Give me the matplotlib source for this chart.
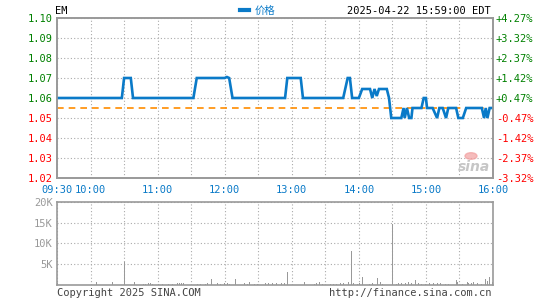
import matplotlib
matplotlib.use("Agg")
import matplotlib.pyplot as plt
import matplotlib.ticker as mticker

W, H = 545, 300

# price path: minutes after 09:30, price
price_min = [0, 58, 60, 66, 68, 122, 125, 150, 152, 154, 157, 204, 206, 218, 220,
             256, 258, 260, 262, 264, 270, 273, 280, 282, 284, 286, 288, 295, 297, 299,
             308, 310, 311, 313, 315, 317, 318, 326, 328, 330, 331, 336, 340, 342, 345,
             348, 350, 357, 359, 363, 366, 380, 382, 383.5, 385, 387, 390]
price_val = [1.06, 1.06, 1.07, 1.07, 1.06, 1.06, 1.07, 1.07, 1.0705, 1.07, 1.06, 1.06, 1.07, 1.07, 1.06,
             1.06, 1.065, 1.07, 1.07, 1.06, 1.06, 1.0645, 1.0645, 1.06, 1.0645, 1.061, 1.0645, 1.0645, 1.06, 1.05,
             1.05, 1.055, 1.05, 1.055, 1.05, 1.05, 1.055, 1.055, 1.06, 1.06, 1.055, 1.055, 1.05, 1.055, 1.055,
             1.05, 1.055, 1.055, 1.05, 1.05, 1.055, 1.055, 1.05, 1.055, 1.05, 1.055, 1.055]
prev_close = 1.055

vol_min = [0, 35, 49, 60, 69, 77, 79, 81, 83, 85, 90, 94, 99, 103, 107, 109, 111, 113,
           125, 128, 132, 134, 138, 143, 146, 149, 152, 154, 159, 167, 170, 172, 176, 179,
           186, 189, 192, 196, 200, 203, 206, 221, 230, 232, 234, 237, 244, 247, 250, 253,
           256, 260, 263, 265, 268, 270, 273, 279, 282, 286, 289, 291, 300, 303, 305, 308,
           311, 314, 317, 320, 323, 326, 329, 333, 336, 340, 343, 347, 350, 357, 358, 362,
           367, 368, 370, 372, 376, 379, 383, 385, 386, 389]
vol_val = [450, 700, 700, 5600, 700, 350, 350, 400, 550, 350, 350, 350, 350, 350, 500, 400, 400, 400,
           350, 350, 350, 400, 1400, 400, 350, 450, 400, 350, 1400, 450, 350, 700, 350, 350,
           450, 400, 400, 500, 550, 400, 3100, 700, 350, 450, 700, 350, 350, 350, 350, 400,
           400, 700, 8200, 450, 350, 400, 1900, 350, 400, 1700, 700, 350, 14700, 350, 500, 450,
           500, 700, 400, 1200, 400, 350, 350, 500, 400, 450, 500, 350, 350, 1200, 700, 350,
           700, 400, 500, 700, 450, 350, 1400, 1000, 1900, 700]

time_pos = [0, 30, 90, 150, 210, 270, 330, 390]
time_labels = ["09:30", "10:00", "11:00", "12:00", "13:00", "14:00", "15:00", "16:00"]
price_ticks = [1.02, 1.03, 1.04, 1.05, 1.06, 1.07, 1.08, 1.09, 1.10]
vol_ticks = [5000, 10000, 15000, 20000]
vol_labels = ["5K", "10K", "15K", "20K"]

BLUE = "#0a7ac8"
GREEN = "#008000"
RED = "#ff0000"
FRAME = "#999999"
GRID = "#aaaaaa"
MONO = "DejaVu Sans Mono"
FS = 7.5

fig = plt.figure(figsize=(W / 100, H / 100), dpi=100)


def box(l, t, r, b):
    return [l / W, 1 - b / H, (r - l) / W, (b - t) / H]


ax = fig.add_axes(box(57, 18, 493, 178))
ax.plot(price_min, price_val, color=BLUE, lw=1.9, solid_joinstyle="miter", zorder=3)
ax.axhline(prev_close, color="#ff8c00", lw=1.2, dashes=(4, 3), zorder=2)
ax.set_xlim(0, 390)
ax.set_ylim(1.02, 1.10)
ax.set_yticks(price_ticks)
ax.set_yticklabels([f"{p:.2f}" for p in price_ticks])
for lbl, p in zip(ax.get_yticklabels(), price_ticks):
    lbl.set_color(GREEN if p > prev_close else RED)
ax.xaxis.set_major_locator(mticker.FixedLocator(time_pos))
ax.set_xticklabels(time_labels)
ax.xaxis.set_minor_locator(mticker.MultipleLocator(30))
ax.grid(True, which="both", axis="x", color=GRID, ls=(0, (1, 2)), lw=0.8)
ax.grid(True, axis="y", color=GRID, ls=(0, (1, 2)), lw=0.8)
ax.tick_params(length=0, which="both", labelsize=FS, pad=3)
ax.tick_params(axis="x", colors=BLUE, pad=5)
for t in ax.get_xticklabels() + ax.get_yticklabels():
    t.set_family(MONO)

ax2 = ax.twinx()
ax2.set_ylim(1.02, 1.10)
ax2.set_yticks(price_ticks)
pct = [(p / prev_close - 1) * 100 for p in price_ticks]
ax2.set_yticklabels([f"{v:+.2f}%" for v in pct])
for lbl, v in zip(ax2.get_yticklabels(), pct):
    lbl.set_color(GREEN if v > 0 else RED)
    lbl.set_family(MONO)
ax2.tick_params(length=0, labelsize=FS, pad=2)

for a in (ax, ax2):
    for s in a.spines.values():
        s.set_color(FRAME)
        s.set_linewidth(1.2)

axv = fig.add_axes(box(57, 201.7, 493, 285))
axv.vlines(vol_min, 0, vol_val, color="#999999", lw=0.72, antialiased=False)
axv.set_xlim(0, 390)
axv.set_ylim(0, 20000)
axv.set_yticks(vol_ticks)
axv.set_yticklabels(vol_labels)
axv.xaxis.set_major_locator(mticker.MultipleLocator(30))
axv.set_xticklabels([])
axv.grid(True, color=GRID, ls=(0, (1, 2)), lw=0.8)
axv.tick_params(length=0, labelsize=FS, colors="#999999", pad=3)
for t in axv.get_yticklabels():
    t.set_family(MONO)
for s in axv.spines.values():
    s.set_color(FRAME)
    s.set_linewidth(1.2)

# header and footer texts
fig.text(55 / W, 1 - 11 / H, "EM", fontsize=FS, family=MONO, va="center", ha="left", color="black")
fig.text(491 / W, 1 - 11 / H, "2025-04-22 15:59:00 EDT", fontsize=FS, family=MONO,
         va="center", ha="right", color="black")
fig.add_artist(plt.Line2D([240 / W, 249 / W], [1 - 10 / H, 1 - 10 / H], color=BLUE, lw=3))
fig.text(255 / W, 1 - 11 / H, "价格", fontsize=FS, family=["Noto Sans CJK SC", "DejaVu Sans"],
         va="center", ha="left", color=BLUE)
fig.text(57 / W, 1 - 293 / H, "Copyright 2025 SINA.COM", fontsize=FS, family=MONO,
         va="center", ha="left", color="#444444")
fig.text(491 / W, 1 - 293 / H, "http://finance.sina.com.cn", fontsize=FS, family=MONO,
         va="center", ha="right", color="#444444")

# sina watermark
fig.text(474 / W, 1 - 167 / H, "sina", fontsize=10, weight="bold", style="italic",
         color="#b8b8b8", ha="center", va="center", alpha=0.8)
fig.add_artist(plt.Circle((471 / W, 1 - 156 / H), 0.011, transform=fig.transFigure,
                          color="#f2a0a0", alpha=0.7))

fig.savefig("out.png", dpi=100)
